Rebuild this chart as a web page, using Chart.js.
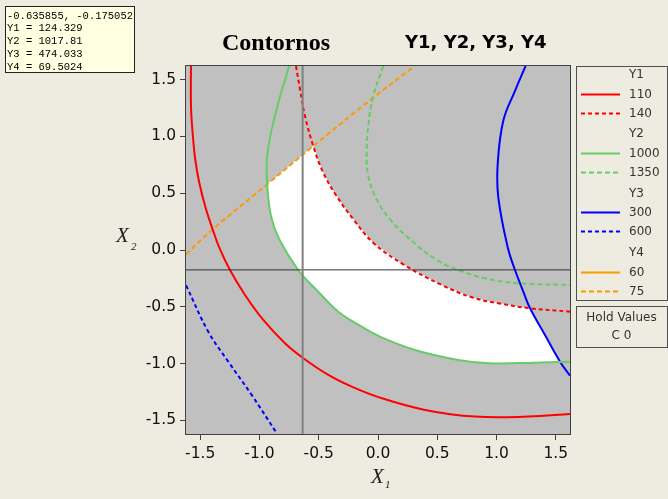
<!DOCTYPE html>
<html>
<head>
<meta charset="utf-8">
<script src="https://cdn.jsdelivr.net/npm/chart.js@4.4.1/dist/chart.umd.min.js"></script>
<style>
  html, body { margin: 0; padding: 0; background: #eeebe1; }
  #wrap { position: relative; width: 668px; height: 499px; overflow: hidden; }
  canvas { position: absolute; left: 0; top: 0; }
</style>
</head>
<body>
<div id="wrap"><canvas id="contour" width="668" height="499"></canvas></div>
<script>
// axis ticks
const xTicks = [-1.5, -1.0, -0.5, 0.0, 0.5, 1.0, 1.5];
const yTicks = [-1.5, -1.0, -0.5, 0.0, 0.5, 1.0, 1.5];
const axisMin = -1.62, axisMax = 1.62;

// crosshair + readout
const crossX = -0.635855, crossY = -0.175052;
const readoutNames = ['Y1', 'Y2', 'Y3', 'Y4'];
const readoutValues = ['124.329', '1017.81', '474.033', '69.5024'];

// legend
const responses = ['Y1', 'Y2', 'Y3', 'Y4'];
const lowLevels = [110, 1000, 300, 60];
const highLevels = [140, 1350, 600, 75];
const holdTitle = 'Hold Values';
const holdValues = ['C 0'];

// contour lines
const y1at110X = [-1.578, -1.578, -1.564, -1.542, -1.508, -1.451, -1.395, -1.339, -1.249, -1.122, -0.968, -0.785, -0.630, -0.419, -0.222, 0.017, 0.397, 0.819, 1.268, 1.62];
const y1at110Y = [1.62, 1.268, 1.031, 0.798, 0.592, 0.358, 0.182, 0.02, -0.176, -0.396, -0.616, -0.821, -0.953, -1.100, -1.203, -1.300, -1.408, -1.467, -1.467, -1.444];

const y1at140X = [-0.692, -0.658, -0.616, -0.546, -0.462, -0.349, -0.208, -0.04, 0.213, 0.538, 0.791, 1.015, 1.283, 1.62];
const y1at140Y = [1.62, 1.415, 1.18, 0.915, 0.681, 0.475, 0.27, 0.064, -0.126, -0.308, -0.416, -0.469, -0.513, -0.543];

const y2at1000X = [-0.749, -0.833, -0.903, -0.937, -0.935, -0.903, -0.833, -0.673, -0.504, -0.335, -0.138, 0.017, 0.312, 0.678, 0.931, 1.325, 1.62];
const y2at1000Y = [1.62, 1.327, 1.033, 0.798, 0.578, 0.299, 0.094, -0.176, -0.367, -0.543, -0.675, -0.763, -0.88, -0.968, -0.997, -0.992, -0.983];

const y2at1350X = [0.045, -0.04, -0.082, -0.095, -0.082, -0.011, 0.101, 0.27, 0.495, 0.678, 0.903, 1.184, 1.62];
const y2at1350Y = [1.62, 1.356, 1.092, 0.857, 0.651, 0.446, 0.27, 0.094, -0.088, -0.176, -0.249, -0.293, -0.308];

const y3at300X = [1.245, 1.156, 1.057, 1.01, 1.015, 1.095, 1.156, 1.226, 1.283, 1.409, 1.536, 1.62];
const y3at300Y = [1.62, 1.402, 1.138, 0.757, 0.464, 0.022, -0.176, -0.367, -0.513, -0.748, -0.983, -1.107];

const y3at600X = [-1.62, -1.432, -1.263, -1.066, -0.85];
const y3at600Y = [-0.31, -0.719, -0.983, -1.276, -1.62];

const y4at75X = [-1.62, -1.395, -0.935, -0.546, -0.04, 0.31];
const y4at75Y = [-0.038, 0.182, 0.578, 0.915, 1.341, 1.62];

// styles
const lineColors = ['#ff0000', '#66cc66', '#0000ff', '#ff9900'];
const dashes = [[4, 3], [5, 3], [4, 3], [5, 3]];

const pts = (xs, ys) => xs.map((x, i) => ({ x: x, y: ys[i] }));
const part = (xs, ys, a, b) => pts(xs, ys).slice(a, b + 1);

// feasible (white) region: pieces of the bounding contours
const feasible = [].concat(
  part(y4at75X, y4at75Y, 2, 3),
  part(y1at140X, y1at140Y, 4, 12),
  part(y3at300X, y3at300Y, 9, 10),
  part(y2at1000X, y2at1000Y, 4, 15).reverse()
);

function contour(xs, ys, g, dashed) {
  return {
    data: pts(xs, ys),
    borderColor: lineColors[g],
    borderWidth: 2,
    borderDash: dashed ? dashes[g] : [],
    tension: 0.4,
    fill: false,
    pointRadius: 0,
    clip: 0,
    order: 1
  };
}

const datasets = [
  { data: [{ x: crossX, y: axisMin }, { x: crossX, y: axisMax }], borderColor: '#808080', borderWidth: 2, pointRadius: 0, tension: 0, order: 0 },
  { data: [{ x: axisMin, y: crossY }, { x: axisMax, y: crossY }], borderColor: '#333333', borderWidth: 1, pointRadius: 0, tension: 0, order: 0 },
  contour(y1at110X, y1at110Y, 0, false),
  contour(y1at140X, y1at140Y, 0, true),
  contour(y2at1000X, y2at1000Y, 1, false),
  contour(y2at1350X, y2at1350Y, 1, true),
  contour(y3at300X, y3at300Y, 2, false),
  contour(y3at600X, y3at600Y, 2, true),
  contour(y4at75X, y4at75Y, 3, true),
  { data: feasible, fill: 'shape', backgroundColor: '#ffffff', borderColor: 'rgba(0,0,0,0)', borderWidth: 0, pointRadius: 0, tension: 0, clip: 0, order: 2 }
];

const panel = {
  id: 'panel',
  beforeDatasetsDraw(chart) {
    const { ctx, chartArea: a } = chart;
    ctx.save();
    ctx.fillStyle = '#c0c0c0';
    ctx.fillRect(a.left, a.top, a.right - a.left, a.bottom - a.top);
    ctx.restore();
  },
  afterDatasetsDraw(chart) {
    const { ctx, chartArea: a } = chart;
    ctx.save();
    ctx.strokeStyle = '#404040';
    ctx.lineWidth = 1;
    ctx.strokeRect(a.left - 0.5, a.top - 0.5, a.right - a.left + 1, a.bottom - a.top + 1);
    ctx.restore();
  },
  afterDraw(chart) {
    const ctx = chart.ctx;
    ctx.save();

    // titles
    ctx.fillStyle = '#000';
    ctx.textBaseline = 'alphabetic';
    ctx.textAlign = 'left';
    ctx.font = 'bold 24px "Liberation Serif"';
    ctx.fillText('Contornos', 222, 50);
    ctx.font = 'bold 18px "DejaVu Sans"';
    ctx.fillText(responses.join(', '), 405, 48);

    // axis titles
    ctx.fillStyle = '#222';
    ctx.font = 'italic 21px "Liberation Serif"';
    ctx.fillText('X', 371, 483);
    ctx.font = 'italic 11px "Liberation Serif"';
    ctx.fillText('1', 385, 488);
    ctx.font = 'italic 21px "Liberation Serif"';
    ctx.fillText('X', 116, 242);
    ctx.font = 'italic 11px "Liberation Serif"';
    ctx.fillText('2', 131, 250);

    // readout box
    ctx.fillStyle = '#ffffe1';
    ctx.fillRect(5, 6, 130, 67);
    ctx.strokeStyle = '#222';
    ctx.lineWidth = 1;
    ctx.strokeRect(5.5, 6.5, 129, 66);
    ctx.fillStyle = '#000';
    ctx.font = '10.5px "Liberation Mono"';
    ctx.fillText(crossX.toFixed(6) + ', ' + crossY.toFixed(6), 7, 18.5);
    readoutNames.forEach((n, i) => ctx.fillText(n + ' = ' + readoutValues[i], 7, 31.4 + i * 12.9));

    // legend box
    ctx.strokeStyle = '#505050';
    ctx.strokeRect(576.5, 66.5, 91, 234);
    ctx.strokeRect(576.5, 306.5, 91, 41);
    ctx.font = '12px "DejaVu Sans"';
    ctx.textBaseline = 'middle';
    responses.forEach((name, g) => {
      const y0 = 75 + g * 59.3;
      ctx.fillStyle = '#333';
      ctx.fillText(name, 629, y0);
      [lowLevels[g], highLevels[g]].forEach((lv, k) => {
        const y = Math.round(y0 + (k + 1) * 18.8) + 0.5;
        ctx.strokeStyle = lineColors[g];
        ctx.lineWidth = 2;
        ctx.setLineDash(k ? dashes[g] : []);
        ctx.beginPath();
        ctx.moveTo(581, y);
        ctx.lineTo(620, y);
        ctx.stroke();
        ctx.setLineDash([]);
        ctx.fillText(String(lv), 629, y);
      });
    });
    ctx.textAlign = 'center';
    ctx.fillText(holdTitle, 621.5, 318);
    holdValues.forEach((v, i) => ctx.fillText(v, 621.5, 336 + i * 18));
    ctx.restore();
  }
};

const tickFont = { family: 'DejaVu Sans', size: 15.5 };

new Chart(document.getElementById('contour').getContext('2d'), {
  type: 'line',
  data: { datasets: datasets },
  options: {
    responsive: false,
    animation: false,
    devicePixelRatio: 1,
    events: [],
    layout: { padding: { left: 0, top: 66, right: 98, bottom: 0 } },
    plugins: { legend: { display: false }, tooltip: { enabled: false }, title: { display: false } },
    scales: {
      x: {
        type: 'linear',
        min: axisMin,
        max: axisMax,
        afterBuildTicks: s => { s.ticks = xTicks.map(v => ({ value: v })); },
        afterFit: s => { s.height = 65; },
        grid: { drawOnChartArea: false, drawTicks: true, tickLength: 6, color: '#404040' },
        border: { display: false },
        ticks: { callback: v => Number(v).toFixed(1), font: tickFont, color: '#111', padding: 5, maxRotation: 0, autoSkip: false }
      },
      y: {
        type: 'linear',
        min: axisMin,
        max: axisMax,
        afterBuildTicks: s => { s.ticks = yTicks.map(v => ({ value: v })); },
        afterFit: s => { s.width = 186; },
        grid: { drawOnChartArea: false, drawTicks: true, tickLength: 6, color: '#404040' },
        border: { display: false },
        ticks: { callback: v => Number(v).toFixed(1), font: tickFont, color: '#111', padding: 4, autoSkip: false }
      }
    }
  },
  plugins: [panel]
});
</script>
</body>
</html>
